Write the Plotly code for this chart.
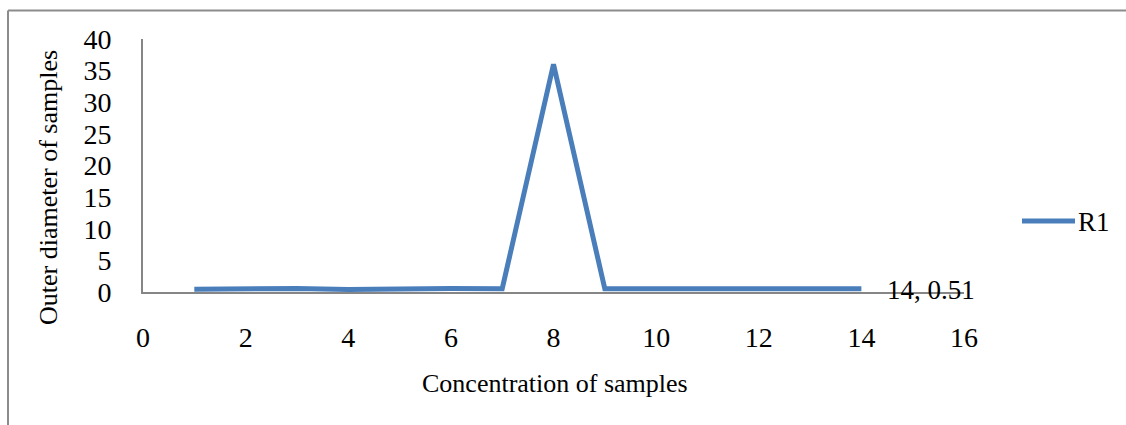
import plotly.graph_objects as go

x_vals = [1, 2, 3, 4, 5, 6, 7, 8, 9, 10, 11, 12, 13, 14]
y_vals = [0.45, 0.5, 0.55, 0.4, 0.5, 0.55, 0.5, 36, 0.5, 0.5, 0.5, 0.52, 0.53, 0.51]
series_name = "R1"
x_ticks = [0, 2, 4, 6, 8, 10, 12, 14, 16]
y_ticks = [0, 5, 10, 15, 20, 25, 30, 35, 40]
x_title = "Concentration of samples"
y_title = "Outer diameter of samples"

W, H = 1126, 425
L, R, T, B = 143, 162, 39, 133
pw, ph = W - L - R, H - T - B

family = "Liberation Serif, Times New Roman, serif"
font = dict(family=family, size=26, color="black")
tick_font = dict(family=family, size=28, color="black")
label_font = dict(family=family, size=27, color="black")
line_color = "#4A7EBB"

fig = go.Figure()
fig.add_trace(go.Scatter(x=x_vals, y=y_vals, mode="lines", name=series_name,
                         line=dict(color=line_color, width=5), showlegend=False))

fig.add_annotation(x=x_vals[-1], y=y_vals[-1], text=f"{x_vals[-1]}, {y_vals[-1]}",
                   showarrow=False, xanchor="left", yanchor="middle", xshift=24, yshift=-1,
                   font=label_font)

def px_x(p):
    return (p - L) / pw

def px_y(p):
    return (H - B - p) / ph

# outer chart border (top and left visible)
fig.add_shape(type="line", xref="paper", yref="paper", x0=px_x(8), x1=px_x(1130),
              y0=px_y(10.5), y1=px_y(10.5), line=dict(color="#8c8c8c", width=2))
fig.add_shape(type="line", xref="paper", yref="paper", x0=px_x(8), x1=px_x(8),
              y0=px_y(10.5), y1=px_y(430), line=dict(color="#8c8c8c", width=2))

# legend
fig.add_shape(type="line", xref="paper", yref="paper", x0=px_x(1022), x1=px_x(1075),
              y0=px_y(221), y1=px_y(221), line=dict(color=line_color, width=5))
fig.add_annotation(xref="paper", yref="paper", x=px_x(1076), y=px_y(222), text=series_name,
                   showarrow=False, xanchor="left", yanchor="middle", font=label_font)

# axis titles
fig.add_annotation(xref="paper", yref="paper", x=px_x(555), y=px_y(383), text=x_title,
                   showarrow=False, xanchor="center", yanchor="middle", font=font)
fig.add_annotation(xref="paper", yref="paper", x=px_x(49), y=px_y(188), text=y_title,
                   showarrow=False, xanchor="center", yanchor="middle", textangle=-90, font=font)

fig.update_layout(
    width=W, height=H,
    margin=dict(l=L, r=R, t=T, b=B),
    paper_bgcolor="white", plot_bgcolor="white",
    font=font,
    xaxis=dict(range=[0, 16], tickvals=x_ticks, showgrid=False, zeroline=False,
               showline=True, linecolor="#868686", linewidth=2, ticks="",
               tickfont=tick_font, ticklabelstandoff=19),
    yaxis=dict(range=[0, 40], tickvals=y_ticks, showgrid=False, zeroline=False,
               showline=True, linecolor="#868686", linewidth=2, ticks="",
               tickfont=tick_font, ticklabelstandoff=24),
)

fig.write_html("out.html")
